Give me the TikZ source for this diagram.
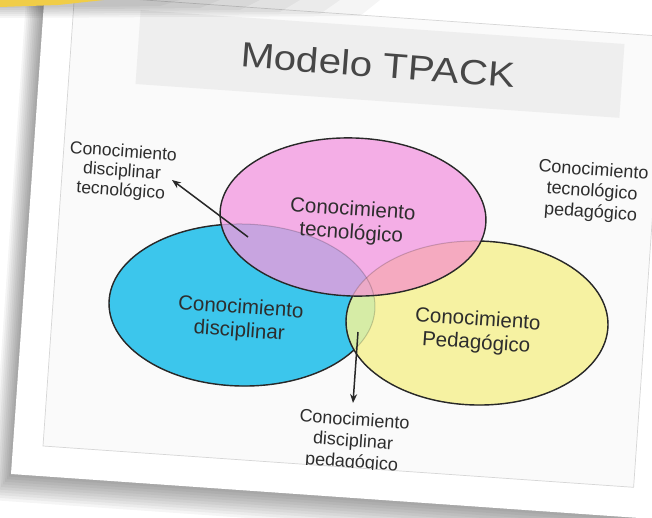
\documentclass[tikz,border=0pt]{standalone}
\usepackage{fontspec}
\setmainfont{Liberation Sans}
\usetikzlibrary{arrows.meta}
\definecolor{pinkc}{RGB}{244,174,230}
\definecolor{bluec}{RGB}{60,198,236}
\definecolor{yellowc}{RGB}{246,242,162}
\definecolor{purplec}{RGB}{200,164,224}
\definecolor{salmonc}{RGB}{245,170,192}
\definecolor{greenc}{RGB}{214,236,166}
\definecolor{triplec}{RGB}{236,170,200}
\definecolor{linec}{RGB}{40,40,40}
\definecolor{textc}{RGB}{45,45,45}
\definecolor{titlebg}{RGB}{238,238,238}
\definecolor{slidebg}{RGB}{250,250,250}
\definecolor{goldc}{RGB}{240,205,72}
\begin{document}
\begin{tikzpicture}[x=1pt,y=-1pt,
  pinkT/.style={shift={(353,217)},rotate=-2},
  blueT/.style={shift={(242,305)},rotate=-1},
  yelT/.style={shift={(477,323)},rotate=-1},
  pinkR/.style={x radius=133,y radius=79},
  blueR/.style={x radius=133,y radius=81},
  yelR/.style={x radius=131,y radius=82},
  edgeline/.style={draw=linec,line width=1.4},
  faintline/.style={draw=black,draw opacity=0.18,line width=1},
  labtext/.style={align=center,text=textc,rotate=-4,inner sep=0pt},
  labbig/.style={labtext,font=\fontsize{20.5}{23.5}\selectfont},
  labsmallA/.style={labtext,font=\fontsize{17.5}{19.5}\selectfont},
  labsmallB/.style={labtext,font=\fontsize{18}{21}\selectfont},
  arrowline/.style={draw=linec,line width=1.5,-{Stealth[length=9pt,width=7pt]}}]
\useasboundingbox (0,0) rectangle (652,518);
\fill[white] (0,0) rectangle (652,518);
% card shadow
\foreach \k in {1,...,10}
  \fill[black,opacity=0.04] ({48-2*\k},{-54.7+2.6*\k}) -- ({726.4-2*\k},{-7.2+2.6*\k})
     -- ({689.4-2*\k},{521.5+2.6*\k}) -- ({11-2*\k},{474+2.6*\k}) -- cycle;
% card
\coordinate (cTL) at (48,-54.7);
\coordinate (cTR) at (726.4,-7.2);
\coordinate (cBR) at (689.4,521.5);
\coordinate (cBL) at (11,474);
\fill[white] (cTL) -- (cTR) -- (cBR) -- (cBL) -- cycle;
% slide
\coordinate (iTL) at (74.5,-4.9);
\coordinate (iTR) at (665,36.4);
\coordinate (iBR) at (633.6,487.3);
\coordinate (iBL) at (43,446);
\filldraw[fill=slidebg,draw=black!16,line width=0.7] (iTL) -- (iTR) -- (iBR) -- (iBL) -- cycle;
\begin{scope}
\clip (iTL) -- (iTR) -- (iBR) -- (iBL) -- cycle;
\node[rotate=-4,fill=titlebg,minimum width=485,minimum height=74,inner sep=0pt] (tbox) at (380,64) {};
\node[rotate=-4.4,text=black!72,inner sep=0pt,font=\fontsize{35}{40}\selectfont] (title) at (378,65) {\scalebox{1.15}[1]{Modelo TPACK}};
% base fills
\fill[bluec,blueT] (0,0) ellipse [blueR];
\fill[yellowc,yelT] (0,0) ellipse [yelR];
\fill[pinkc,pinkT] (0,0) ellipse [pinkR];
\begin{scope}
\clip[blueT] (0,0) ellipse [blueR];
\fill[greenc,yelT] (0,0) ellipse [yelR];
\end{scope}
\begin{scope}
\clip[pinkT] (0,0) ellipse [pinkR];
\fill[purplec,blueT] (0,0) ellipse [blueR];
\fill[salmonc,yelT] (0,0) ellipse [yelR];
\clip[blueT] (0,0) ellipse [blueR];
\fill[triplec,yelT] (0,0) ellipse [yelR];
\end{scope}
% borders
\draw[faintline,blueT] (0,0) ellipse [blueR];
\draw[faintline,yelT] (0,0) ellipse [yelR];
\begin{scope}[even odd rule]
\clip[pinkT] (-900,-900) rectangle (900,900) (0,0) ellipse [pinkR];
\draw[edgeline,yelT] (0,0) ellipse [yelR];
\clip[yelT] (-900,-900) rectangle (900,900) (0,0) ellipse [yelR];
\draw[edgeline,blueT] (0,0) ellipse [blueR];
\end{scope}
\draw[edgeline,pinkT] (0,0) ellipse [pinkR];
% labels
\node[labbig] (tec) at (352,222) {Conocimiento\\tecnológico};
\node[labbig] (dis) at (240,320) {Conocimiento\\disciplinar};
\node[labbig] (ped) at (477,332) {Conocimiento\\Pedagógico};
\node[labsmallA] (dt) at (122,172) {Conocimiento\\disciplinar\\tecnológico};
\node[labsmallB] (tp) at (592,192) {Conocimiento\\tecnológico\\pedagógico};
\node[labsmallB] (dp) at (353,442) {Conocimiento\\disciplinar\\pedagógico};
% arrows
\coordinate (a1s) at (248,237);
\coordinate (a1e) at (172,180);
\coordinate (a2s) at (358,332);
\coordinate (a2e) at (353,403);
\draw[arrowline] (a1s) -- (a1e);
\draw[arrowline] (a2s) -- (a2e);
\end{scope}
% top shading and yellow band
\foreach \k in {1,...,6}
  \fill[black,opacity=0.04] (0,0) -- ({420-40*\k},0) -- ({400-40*\k},{18-2*\k}) -- (0,{20-2*\k}) -- cycle;
\fill[goldc] (0,0) -- (104,0) -- (58,5) -- (0,7) -- cycle;
\end{tikzpicture}
\end{document}
